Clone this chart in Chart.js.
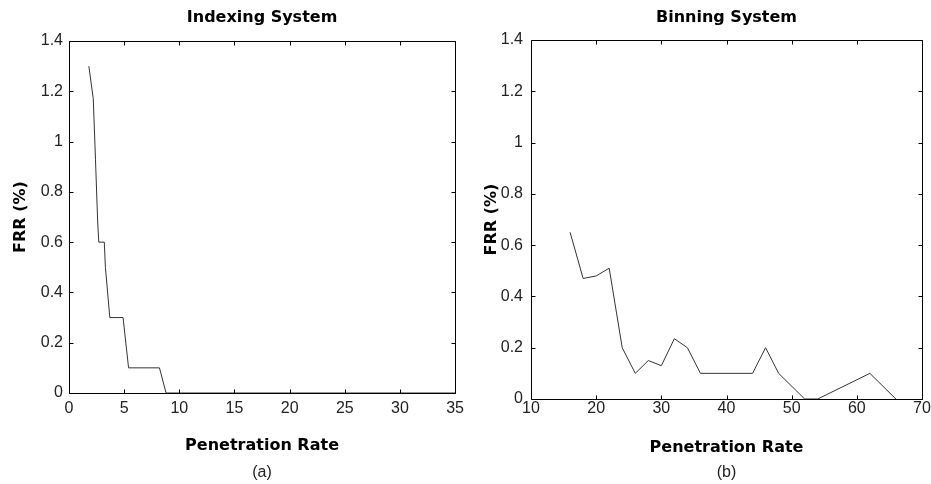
<!DOCTYPE html>
<html>
<head>
<meta charset="utf-8">
<script src="https://cdn.jsdelivr.net/npm/chart.js@4"></script>
<style>
  html, body { margin: 0; padding: 0; background: #fff; }
  .panel { position: absolute; top: 0; height: 484px; }
</style>
</head>
<body>
<div class="panel" style="left:0;width:470px"><canvas id="indexing" width="470" height="484"></canvas></div>
<div class="panel" style="left:470px;width:461px"><canvas id="binning" width="461" height="484"></canvas></div>
<script>
// (a) Indexing system
const indexRate = [1.8, 2.2, 2.4, 2.6, 2.7, 3.2, 3.3, 3.7, 4.9, 5.4, 8.2, 8.8, 35]
const indexFrr = [1.3, 1.17, 0.93, 0.68, 0.6, 0.6, 0.5, 0.3, 0.3, 0.1, 0.1, 0, 0]

// (b) Binning system
const binRate = [16, 18, 20, 22, 24, 26, 28, 30, 32, 34, 36, 44, 46, 48, 52, 54, 62, 66]
const binFrr = [0.65, 0.47, 0.48, 0.51, 0.2, 0.1, 0.15, 0.13, 0.235, 0.2, 0.1, 0.1, 0.2, 0.1, 0, 0, 0.1, 0]

const frrTicks = [0, 0.2, 0.4, 0.6, 0.8, 1, 1.2, 1.4]

const tickFont = { family: "'Liberation Sans Narrow', 'Liberation Sans', Arial, sans-serif", size: 16 }
const boldFont = { family: "'DejaVu Sans', Verdana, sans-serif", size: 16, weight: "bold" }

// matlab-like box with inward ticks on all four sides
const boxPlugin = {
  id: "box",
  afterDraw(chart) {
    const { ctx, chartArea, scales } = chart
    const l = Math.round(chartArea.left) + 0.5
    const r = Math.round(chartArea.right) + 0.5
    const t = Math.round(chartArea.top) + 0.5
    const b = Math.round(chartArea.bottom) + 0.5
    const len = 4
    ctx.save()
    ctx.strokeStyle = "#000"
    ctx.lineWidth = 1
    ctx.beginPath()
    ctx.rect(l, t, r - l, b - t)
    scales.x.ticks.forEach(tk => {
      const px = Math.round(scales.x.getPixelForValue(tk.value)) + 0.5
      ctx.moveTo(px, b); ctx.lineTo(px, b - len)
      ctx.moveTo(px, t); ctx.lineTo(px, t + len)
    })
    scales.y.ticks.forEach(tk => {
      const py = Math.round(scales.y.getPixelForValue(tk.value)) + 0.5
      ctx.moveTo(l, py); ctx.lineTo(l + len, py)
      ctx.moveTo(r, py); ctx.lineTo(r - len, py)
    })
    ctx.stroke()
    ctx.restore()
  }
}

function makeChart(id, cfg) {
  const points = cfg.rate.map((r, i) => ({ x: r, y: cfg.frr[i] }))
  return new Chart(document.getElementById(id), {
    type: "line",
    data: {
      datasets: [{
        data: points,
        borderColor: "#333",
        borderWidth: 1,
        pointRadius: 0,
        tension: 0,
        fill: false
      }]
    },
    options: {
      responsive: false,
      animation: false,
      layout: { padding: { left: 0, right: cfg.padRight, top: 8, bottom: 2 } },
      plugins: {
        legend: { display: false },
        tooltip: { enabled: false },
        title: {
          display: true, text: cfg.title, color: "#000", font: boldFont,
          fullSize: false, padding: { top: 0, bottom: cfg.titleGap }
        },
        subtitle: {
          display: true, text: cfg.label, position: "bottom", color: "#222",
          font: tickFont, fullSize: false, padding: 0
        }
      },
      scales: {
        x: {
          type: "linear",
          min: cfg.xMin, max: cfg.xMax,
          grid: { display: false, drawTicks: false },
          border: { display: false },
          ticks: { stepSize: cfg.xStep, font: tickFont, color: "#222", padding: cfg.xTickPad, maxRotation: 0 },
          title: { display: true, text: "Penetration Rate", color: "#000", font: boldFont, padding: { top: 0, bottom: cfg.xTitlePad } },
          afterFit: s => { s.height = cfg.xHeight }
        },
        y: {
          type: "linear",
          min: 0, max: 1.4,
          grid: { display: false, drawTicks: false },
          border: { display: false },
          afterBuildTicks: s => { s.ticks = frrTicks.map(v => ({ value: v })) },
          ticks: { font: tickFont, color: "#222", padding: cfg.yTickPad, callback: v => String(+v.toFixed(1)) },
          title: { display: true, text: "FRR (%)", color: "#000", font: boldFont, padding: { top: cfg.yTitlePad, bottom: 0 } },
          afterFit: s => { s.width = cfg.yWidth }
        }
      }
    },
    plugins: [boxPlugin]
  })
}

makeChart("indexing", {
  rate: indexRate, frr: indexFrr,
  title: "Indexing System", label: "(a)",
  xMin: 0, xMax: 35, xStep: 5,
  padRight: 11, titleGap: 13.8,
  xHeight: 69.8, xTickPad: 6, xTitlePad: 7.2,
  yWidth: 69, yTickPad: 6, yTitlePad: 11.4
})

makeChart("binning", {
  rate: binRate, frr: binFrr,
  title: "Binning System", label: "(b)",
  xMin: 10, xMax: 70, xStep: 10,
  padRight: 9, titleGap: 12.8,
  xHeight: 63.8, xTickPad: 0, xTitlePad: 5.2,
  yWidth: 61, yTickPad: 8, yTitlePad: 12.4
})
</script>
</body>
</html>
